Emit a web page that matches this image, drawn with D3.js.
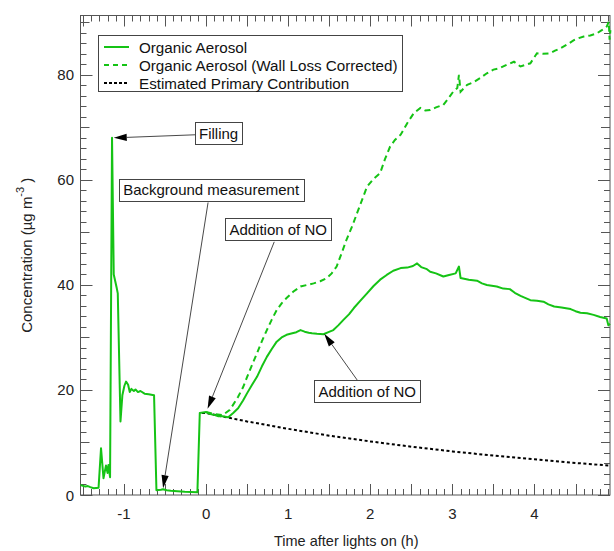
<!DOCTYPE html>
<html>
<head>
<meta charset="utf-8">
<script src="https://cdn.jsdelivr.net/npm/d3@7"></script>
<style>
  body { margin: 0; background: #fff; }
  svg { display: block; font-family: "Liberation Sans", Arial, sans-serif; }
</style>
</head>
<body>
<div id="chart"></div>
<script>
// ---- data ----
var oaTime = [-1.53,-1.47,-1.44,-1.41,-1.37,-1.31,-1.28,-1.25,-1.22,-1.20,-1.19,-1.17,-1.146,-1.125,-1.09,-1.076,-1.043,-1.02,-0.995,-0.975,-0.95,-0.93,-0.91,-0.88,-0.86,-0.83,-0.80,-0.75,-0.70,-0.634,-0.605,-0.55,-0.525,-0.48,-0.43,-0.35,-0.26,-0.106,-0.077,0.0,0.05,0.09,0.15,0.2,0.27,0.33,0.39,0.45,0.5,0.56,0.62,0.68,0.74,0.8,0.86,0.92,0.98,1.05,1.1,1.15,1.2,1.25,1.29,1.35,1.43,1.49,1.55,1.61,1.67,1.74,1.8,1.88,1.96,2.04,2.12,2.2,2.28,2.37,2.45,2.52,2.57,2.62,2.69,2.73,2.8,2.89,2.96,3.04,3.08,3.10,3.2,3.3,3.36,3.42,3.54,3.62,3.70,3.76,3.83,3.95,4.03,4.11,4.17,4.24,4.33,4.44,4.5,4.56,4.64,4.72,4.8,4.88,4.9,4.92];
var oaConc = [1.9,1.6,1.7,1.5,1.3,1.4,8.9,3.2,5.6,4.2,5.7,3.4,68,42,39.5,38.4,14,19,20.8,21.6,21.0,19.6,20.2,19.8,20.1,19.6,19.8,19.3,19.2,19.0,0.9,1.0,1.1,0.9,0.8,0.7,0.6,0.5,15.6,15.8,15.4,15.3,15.0,15.0,14.8,15.6,16.5,18.0,19.4,21.0,22.5,24.5,26.3,27.8,29.2,30.0,30.5,30.8,31.0,31.4,31.1,30.9,30.8,30.7,30.6,31.0,31.4,32.3,33.3,34.4,35.6,37.0,38.4,39.8,41.0,41.9,42.7,43.2,43.3,43.6,44.1,43.4,43.0,42.5,42.2,41.6,41.9,42.2,43.5,41.3,41.0,40.8,40.3,40.0,39.7,39.3,39.2,38.5,37.9,37.1,37.0,36.8,36.3,35.9,35.7,35.4,35.0,34.7,34.6,34.3,33.9,33.6,32.3,32.6];

var wlTime = [0.0,0.1,0.2,0.29,0.39,0.45,0.5,0.56,0.62,0.68,0.74,0.8,0.86,0.92,0.98,1.06,1.15,1.23,1.31,1.39,1.47,1.53,1.59,1.65,1.71,1.78,1.84,1.9,1.96,2.04,2.12,2.18,2.24,2.30,2.37,2.45,2.53,2.61,2.67,2.73,2.8,2.89,2.95,3.01,3.06,3.08,3.10,3.18,3.26,3.34,3.42,3.5,3.58,3.66,3.75,3.83,3.95,4.03,4.1,4.19,4.25,4.31,4.4,4.48,4.54,4.60,4.68,4.76,4.82,4.88,4.905,4.915,4.925];
var wlConc = [15.8,15.4,15.2,16.2,18.7,20.5,22.5,24.8,27,29.3,31.4,33.4,35.2,36.5,37.5,38.7,39.7,40.0,40.3,40.7,41.3,42.2,43.5,46,48.6,51.2,53.7,56.2,58.7,60.2,61.3,64,66.3,67.6,68.6,70.8,72.7,73.7,73.2,73.3,73.8,74.3,75.5,76.8,77.5,80.0,76.8,78.1,78.6,79.4,80.3,81.0,81.3,81.9,82.5,81.6,82.2,84.1,84.0,84.1,84.6,85.0,85.8,86.6,87.0,87.3,87.5,87.9,88.5,89.2,90.1,86.7,88.5];

var primTime = [-0.05,0,0.25,0.5,1,1.5,2,2.5,3,3.5,4,4.5,4.92];
var primConc = [15.6,15.6,14.8,14.0,12.6,11.3,10.2,9.2,8.3,7.5,6.8,6.1,5.6];

var xMajorTicks = [-1, 0, 1, 2, 3, 4];
var yMajorTicks = [0, 20, 40, 60, 80];

var legendLabels = ["Organic Aerosol", "Organic Aerosol (Wall Loss Corrected)", "Estimated Primary Contribution"];

// annotations: label, box centre (h, conc), line start (h, conc), arrow tip (h, conc)
var noteText = ["Filling", "Background measurement", "Addition of NO", "Addition of NO"];
var noteBox = [[0.152, 68.85], [0.061, 58.1], [0.878, 50.6], [1.963, 19.8]];
var noteFrom = [[-0.11, 68.6], [0.024, 55.7], [0.83, 48.2], [1.84, 21.9]];
var noteTip = [[-1.125, 68.0], [-0.524, 1.3], [0.018, 16.4], [1.439, 30.7]];

(function() {
  var W = 614, H = 551;
  var mLeft = 80.5, mRight = 610, mTop = 15.5, mBottom = 495;
  var green = "#15c315";
  var axisColor = "#555";

  var svg = d3.select("#chart").append("svg").attr("width", W).attr("height", H);

  var x = d3.scaleLinear().domain([-1.53, 4.92]).range([mLeft, mRight]);
  var y = d3.scaleLinear().domain([0, 91.3]).range([mBottom, mTop]);

  // ticks, all pointing inward, on four sides
  var xMinor = d3.range(-15, 50).map(function(d) { return d / 10; });
  var yMinor = d3.range(0, 92, 2);

  var axes = svg.append("g").attr("stroke", axisColor).attr("stroke-width", 1);

  function xLen(d) { return Math.abs(d * 2 - Math.round(d * 2)) < 1e-6 ? 11 : 6; }
  function yLen(d) { return d % 20 === 0 ? 12 : (d % 10 === 0 ? 9 : 6); }

  xMinor.forEach(function(d) {
    var px = Math.round(x(d)) + 0.5;
    axes.append("line").attr("x1", px).attr("x2", px).attr("y1", mBottom).attr("y2", mBottom - xLen(d));
    axes.append("line").attr("x1", px).attr("x2", px).attr("y1", mTop).attr("y2", mTop + xLen(d));
  });
  yMinor.forEach(function(d) {
    var py = Math.round(y(d)) + 0.5;
    axes.append("line").attr("y1", py).attr("y2", py).attr("x1", mLeft).attr("x2", mLeft + yLen(d));
    axes.append("line").attr("y1", py).attr("y2", py).attr("x1", mRight).attr("x2", mRight - yLen(d));
  });
  axes.append("rect").attr("x", mLeft).attr("y", mTop).attr("width", mRight - mLeft).attr("height", mBottom - mTop)
    .attr("fill", "none");

  // tick labels
  svg.append("g").selectAll("text").data(xMajorTicks).enter().append("text")
    .attr("x", function(d) { return x(d); }).attr("y", 519)
    .attr("text-anchor", "middle").attr("font-size", 15).attr("fill", "#222")
    .text(function(d) { return d; });
  svg.append("g").selectAll("text").data(yMajorTicks).enter().append("text")
    .attr("x", 74).attr("y", function(d) { return y(d) + 5.5; })
    .attr("text-anchor", "end").attr("font-size", 15).attr("fill", "#222")
    .text(function(d) { return d; });

  // axis titles
  svg.append("text").attr("x", (mLeft + mRight) / 2 + 1).attr("y", 546)
    .attr("text-anchor", "middle").attr("font-size", 14.5).attr("fill", "#222")
    .text("Time after lights on (h)");
  var yt = svg.append("text").attr("transform", "translate(32," + ((mTop + mBottom) / 2) + ") rotate(-90)")
    .attr("text-anchor", "middle").attr("font-size", 15).attr("fill", "#222");
  yt.append("tspan").text("Concentration (µg m");
  yt.append("tspan").attr("dy", -8).attr("font-size", 11).text("-3");
  yt.append("tspan").attr("dy", 8).text(" )");

  // series
  function pts(t, c) { return t.map(function(d, i) { return [d, c[i]]; }); }
  var line = d3.line().x(function(d) { return x(d[0]); }).y(function(d) { return y(d[1]); });

  var plot = svg.append("g");
  plot.append("path").datum(pts(primTime, primConc)).attr("d", line)
    .attr("fill", "none").attr("stroke", "#000").attr("stroke-width", 2).attr("stroke-dasharray", "3,2.5");
  plot.append("path").datum(pts(wlTime, wlConc)).attr("d", line)
    .attr("fill", "none").attr("stroke", green).attr("stroke-width", 2).attr("stroke-dasharray", "6,4");
  plot.append("path").datum(pts(oaTime, oaConc)).attr("d", line)
    .attr("fill", "none").attr("stroke", green).attr("stroke-width", 2).attr("stroke-linejoin", "round");

  // annotations
  var notes = svg.append("g");
  noteText.forEach(function(t, i) {
    var x0 = x(noteFrom[i][0]), y0 = y(noteFrom[i][1]);
    var x1 = x(noteTip[i][0]), y1 = y(noteTip[i][1]);
    var ang = Math.atan2(y1 - y0, x1 - x0);
    var len = 13, hw = 3.6;
    var bx = x1 - len * Math.cos(ang), by = y1 - len * Math.sin(ang);
    notes.append("line").attr("x1", x0).attr("y1", y0).attr("x2", bx).attr("y2", by)
      .attr("stroke", "#333").attr("stroke-width", 0.9);
    notes.append("path")
      .attr("d", "M" + x1 + "," + y1 +
        "L" + (bx + hw * Math.sin(ang)) + "," + (by - hw * Math.cos(ang)) +
        "L" + (bx - hw * Math.sin(ang)) + "," + (by + hw * Math.cos(ang)) + "Z")
      .attr("fill", "#000");

    var g = notes.append("g");
    var txt = g.append("text").attr("x", x(noteBox[i][0])).attr("y", y(noteBox[i][1]) + 5.5)
      .attr("text-anchor", "middle").attr("font-size", 15).attr("fill", "#111").text(t);
    var bb = txt.node().getBBox();
    g.insert("rect", "text").attr("x", Math.round(bb.x - 4) + 0.5).attr("y", Math.round(y(noteBox[i][1]) - 11) + 0.5)
      .attr("width", Math.round(bb.width + 8)).attr("height", 22)
      .attr("fill", "#fff").attr("stroke", "#444").attr("stroke-width", 1);
  });

  // legend
  var lg = svg.append("g");
  lg.append("rect").attr("x", 98.5).attr("y", 35.5).attr("width", 304).attr("height", 56)
    .attr("fill", "#fff").attr("stroke", "#444");
  var legStyle = [
    { color: green, dash: null },
    { color: green, dash: "5,4" },
    { color: "#000", dash: "3,2" }
  ];
  legendLabels.forEach(function(t, i) {
    var cy = 47 + i * 18;
    lg.append("line").attr("x1", 104).attr("x2", 129).attr("y1", cy).attr("y2", cy)
      .attr("stroke", legStyle[i].color).attr("stroke-width", 2)
      .attr("stroke-dasharray", legStyle[i].dash);
    lg.append("text").attr("x", 139).attr("y", cy + 5.5).attr("font-size", 15.2).attr("fill", "#111").text(t);
  });
})();
</script>
</body>
</html>
